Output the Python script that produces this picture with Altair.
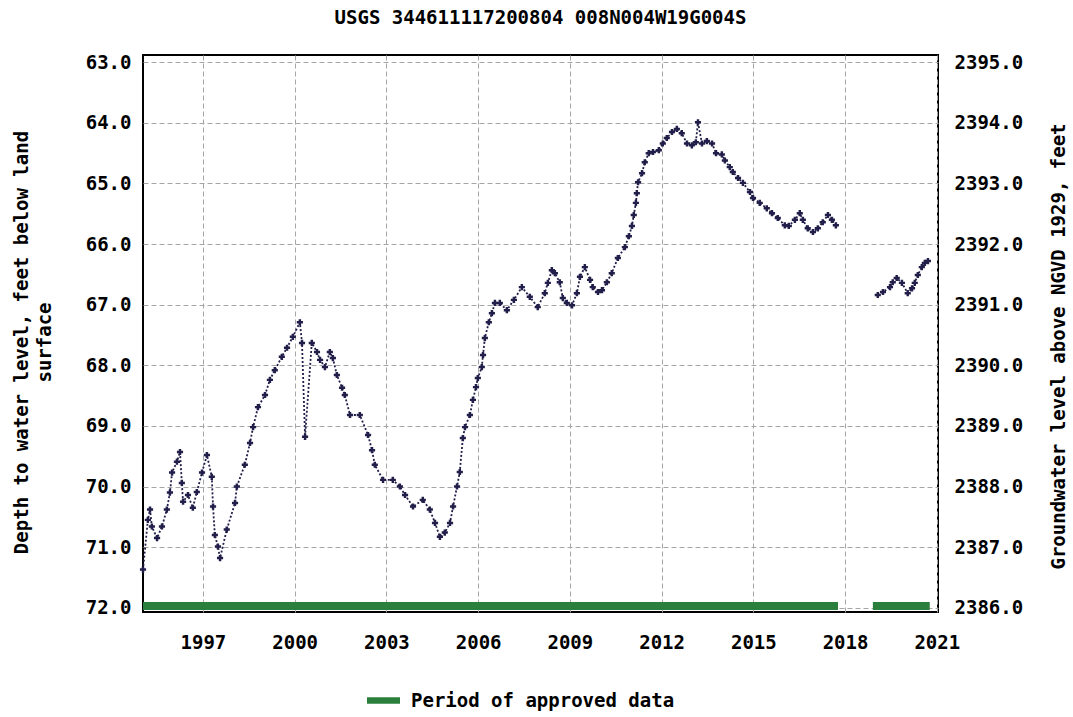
import altair as alt
import pandas as pd

# Groundwater observations: decimal year, depth to water (ft below land surface)
years = [
    1995.04, 1995.20, 1995.27, 1995.33, 1995.50, 1995.66, 1995.82, 1995.92, 1995.99, 1996.15,
    1996.25, 1996.31, 1996.35, 1996.51, 1996.67, 1996.80, 1996.97, 1997.13, 1997.29, 1997.33,
    1997.39, 1997.49, 1997.56, 1997.78, 1998.05, 1998.11, 1998.37, 1998.54, 1998.64, 1998.80,
    1999.03, 1999.19, 1999.35, 1999.58, 1999.75, 1999.94, 2000.17, 2000.24, 2000.34, 2000.56,
    2000.73, 2000.83, 2000.99, 2001.15, 2001.25, 2001.38, 2001.55, 2001.64, 2001.81, 2002.13,
    2002.40, 2002.53, 2002.62, 2002.89, 2003.21, 2003.44, 2003.61, 2003.87, 2004.19, 2004.42,
    2004.59, 2004.75, 2004.91, 2005.08, 2005.18, 2005.31, 2005.40, 2005.50, 2005.57, 2005.73,
    2005.83, 2005.93, 2005.99, 2006.12, 2006.16, 2006.22, 2006.35, 2006.45, 2006.55, 2006.71,
    2006.94, 2007.17, 2007.43, 2007.69, 2007.95, 2008.18, 2008.28, 2008.41, 2008.51, 2008.67,
    2008.77, 2008.90, 2009.07, 2009.23, 2009.33, 2009.49, 2009.66, 2009.75, 2009.92, 2010.05,
    2010.21, 2010.37, 2010.57, 2010.80, 2010.93, 2011.03, 2011.09, 2011.16, 2011.19, 2011.23,
    2011.36, 2011.45, 2011.58, 2011.72, 2011.91, 2012.04, 2012.17, 2012.34, 2012.50, 2012.66,
    2012.83, 2012.99, 2013.12, 2013.19, 2013.32, 2013.48, 2013.65, 2013.78, 2013.97, 2014.07,
    2014.23, 2014.33, 2014.50, 2014.66, 2014.89, 2014.99, 2015.21, 2015.44, 2015.61, 2015.80,
    2016.03, 2016.16, 2016.36, 2016.52, 2016.62, 2016.78, 2016.95, 2017.11, 2017.27, 2017.44,
    2017.57, 2017.70,
    2019.07, 2019.24, 2019.47, 2019.56, 2019.69, 2019.86, 2020.05, 2020.19, 2020.28, 2020.38,
    2020.51, 2020.61, 2020.71,
]
depths = [
    71.37, 70.55, 70.38, 70.66, 70.85, 70.66, 70.38, 70.10, 69.77, 69.59,
    69.43, 69.94, 70.25, 70.14, 70.35, 70.09, 69.77, 69.48, 69.84, 70.33,
    70.80, 70.99, 71.18, 70.71, 70.27, 70.00, 69.64, 69.28, 69.02, 68.69,
    68.49, 68.24, 68.08, 67.86, 67.71, 67.53, 67.29, 67.63, 69.18, 67.63,
    67.78, 67.91, 68.03, 67.78, 67.88, 68.16, 68.37, 68.49, 68.82, 68.82,
    69.15, 69.40, 69.64, 69.89, 69.89, 70.00, 70.14, 70.33, 70.22, 70.38,
    70.60, 70.83, 70.76, 70.60, 70.33, 70.00, 69.76, 69.20, 69.02, 68.82,
    68.57, 68.36, 68.21, 68.03, 67.83, 67.55, 67.29, 67.14, 66.97, 66.97,
    67.09, 66.92, 66.71, 66.87, 67.04, 66.81, 66.64, 66.43, 66.48, 66.63,
    66.89, 66.97, 67.01, 66.81, 66.54, 66.38, 66.59, 66.71, 66.79, 66.76,
    66.63, 66.48, 66.23, 66.05, 65.87, 65.70, 65.52, 65.32, 65.16, 64.98,
    64.83, 64.65, 64.50, 64.48, 64.45, 64.34, 64.25, 64.15, 64.10, 64.17,
    64.34, 64.37, 64.32, 63.99, 64.34, 64.30, 64.34, 64.50, 64.52, 64.62,
    64.73, 64.81, 64.91, 64.99, 65.14, 65.24, 65.32, 65.41, 65.49, 65.57,
    65.69, 65.70, 65.60, 65.49, 65.60, 65.74, 65.80, 65.74, 65.64, 65.52,
    65.60, 65.69,
    66.84, 66.79, 66.71, 66.63, 66.56, 66.64, 66.81, 66.73, 66.64, 66.51,
    66.38, 66.31, 66.28,
]
# record segment id (break in record between late 2017 and early 2019)
segments = [0] * 152 + [1] * 13

# Periods of approved data (decimal years)
approved_start = [1995.04, 2018.91]
approved_end = [2017.77, 2020.77]
approved_label = ["Period of approved data", "Period of approved data"]

x_ticks = [1997, 2000, 2003, 2006, 2009, 2012, 2015, 2018, 2021]
depth_ticks = [63, 64, 65, 66, 67, 68, 69, 70, 71, 72]
level_ticks = [2386, 2387, 2388, 2389, 2390, 2391, 2392, 2393, 2394, 2395]

LAND_SURFACE = 2458.0  # ft above NGVD 1929
X_DOMAIN = [1995.04, 2021.04]
DEPTH_DOMAIN = [62.88, 72.07]

FONT = "DejaVu Sans Mono"
FS = 19
POINT_COLOR = "#221e4a"
GREEN = "#2b7f3c"
GRID = "#a6a6a6"

df = pd.DataFrame({"year": years, "depth": depths, "segment": segments})
df["level"] = LAND_SURFACE - df["depth"]
approved = pd.DataFrame({"start": approved_start, "end": approved_end, "label": approved_label})

x_scale = alt.Scale(domain=X_DOMAIN, nice=False, zero=False)
depth_scale = alt.Scale(domain=DEPTH_DOMAIN, reverse=True, nice=False, zero=False)
level_scale = alt.Scale(domain=[LAND_SURFACE - DEPTH_DOMAIN[1], LAND_SURFACE - DEPTH_DOMAIN[0]],
                        nice=False, zero=False)

label_style = dict(labelFont=FONT, labelFontSize=FS, labelFontWeight="bold", labelColor="black",
                   labelFlush=False, labelOverlap=False)

x_axis = alt.Axis(values=x_ticks, format="d", title=None, grid=True, gridColor=GRID,
                  gridDash=[5, 3], gridWidth=1, ticks=False, domain=False,
                  labelPadding=21, **label_style)

y_depth = alt.Y("depth:Q", scale=depth_scale,
                axis=alt.Axis(values=depth_ticks, format=".1f",
                              title=["Depth to water level, feet below land", "surface"],
                              titleFont=FONT, titleFontSize=FS, titleFontWeight="bold",
                              titleColor="black", titleX=-122, titleY=287, titleAngle=-90,
                              titleBaseline="middle", titleAlign="center", titleLineHeight=23,
                              grid=True, gridColor=GRID, gridDash=[5, 3], gridWidth=1,
                              ticks=False, domain=False, labelPadding=12, **label_style))

bars = alt.Chart(approved).mark_rect().encode(
    x=alt.X("start:Q", scale=x_scale, axis=x_axis),
    x2="end:Q",
    y=alt.value(547),
    y2=alt.value(555),
    color=alt.Color("label:N", scale=alt.Scale(range=[GREEN]),
                    legend=alt.Legend(title=None, orient="none", legendX=224, legendY=629,
                                      symbolType="M-1,-0.2L1,-0.2L1,0.2L-1,0.2Z",
                                      symbolSize=1089, symbolStrokeWidth=0,
                                      labelFont=FONT, labelFontSize=FS, labelFontWeight="bold",
                                      labelColor="black", labelOffset=11, labelLimit=500,
                                      padding=0)),
)

line = alt.Chart(df).mark_line(color=POINT_COLOR, strokeWidth=1.8, strokeDash=[2, 2]).encode(
    x=alt.X("year:Q", scale=x_scale, axis=x_axis), y=y_depth,
    detail="segment:N", order="year:Q"
)

points = alt.Chart(df).mark_point(shape="cross", filled=True, size=38, color=POINT_COLOR,
                                  opacity=1).encode(
    x=alt.X("year:Q", scale=x_scale, axis=x_axis), y=y_depth
)

right = alt.Chart(df).mark_point(opacity=0).encode(
    x=alt.X("year:Q", scale=x_scale, axis=x_axis),
    y=alt.Y("level:Q", scale=level_scale,
            axis=alt.Axis(orient="right", values=level_ticks, format=".1f",
                          title="Groundwater level above NGVD 1929, feet",
                          titleFont=FONT, titleFontSize=FS, titleFontWeight="bold",
                          titleColor="black", titleAngle=-90, titleX=120, titleY=291,
                          titleBaseline="middle", titleAlign="center",
                          grid=False, ticks=False, domain=False, labelPadding=16,
                          **label_style)),
)

chart = alt.layer(alt.layer(bars, line, points), right).resolve_scale(y="independent").properties(
    width=795,
    height=557,
    autosize=alt.AutoSizeParams(type="none"),
    padding={"left": 143, "top": 55, "right": 135, "bottom": 105},
    title=alt.TitleParams("USGS 344611117200804 008N004W19G004S", font=FONT, fontSize=FS,
                          fontWeight="bold", color="black", anchor="middle", offset=25),
    background="white",
).configure_view(stroke="black", strokeWidth=2)

chart.save("out.html", embed_options={"renderer": "svg", "actions": False})
